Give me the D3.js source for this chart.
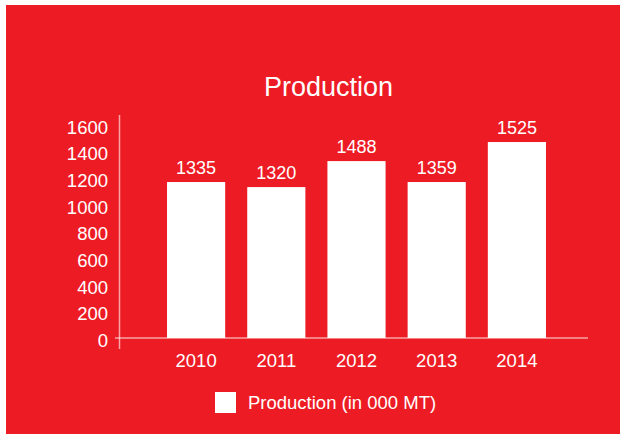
<!DOCTYPE html>
<html>
<head>
<meta charset="utf-8">
<script src="https://cdn.jsdelivr.net/npm/d3@7"></script>
<style>
  html, body { margin: 0; padding: 0; background: #fff; }
  svg { display: block; font-family: "Liberation Sans", Arial, Helvetica, sans-serif; }
</style>
</head>
<body>
<svg id="chart" width="620" height="434"></svg>
<script>
// Data
const categories = ["2010", "2011", "2012", "2013", "2014"];
const barValues = [1170, 1132, 1327, 1170, 1470];   // bar heights as drawn
const barLabels = ["1335", "1320", "1488", "1359", "1525"]; // printed labels
const yTicks = [0, 200, 400, 600, 800, 1000, 1200, 1400, 1600];
const title = "Production";
const legendLabel = "Production (in 000 MT)";

const svg = d3.select("#chart");
const red = "#ED1C24";
const axisColor = "rgba(255,255,255,0.6)";

svg.append("rect").attr("x", 6).attr("y", 5).attr("width", 614).attr("height", 429).attr("fill", red);

const x = d3.scaleBand().domain(categories).range([156, 557]).paddingInner(0.275).paddingOuter(0.1375);
const y = d3.scaleLinear().domain([0, 1600]).range([338, 124.7]);

// Title
svg.append("text").attr("x", 328.5).attr("y", 96).attr("text-anchor", "middle")
  .attr("fill", "#fff").style("font-size", "27px").text(title);

// Bars
svg.append("g").selectAll("rect").data(categories).join("rect")
  .attr("x", d => x(d)).attr("width", x.bandwidth())
  .attr("y", (d, i) => y(barValues[i])).attr("height", (d, i) => y(0) - y(barValues[i]))
  .attr("fill", "#fff");

// Bar labels
svg.append("g").selectAll("text").data(categories).join("text")
  .attr("x", d => x(d) + x.bandwidth() / 2)
  .attr("y", (d, i) => y(barValues[i]) - 8)
  .attr("text-anchor", "middle").attr("fill", "#fff").style("font-size", "18px")
  .text((d, i) => barLabels[i]);

// Y axis
const yAxis = d3.axisLeft(y).tickValues(yTicks).tickSize(0).tickPadding(11.5).tickFormat(d3.format("d"));
const gy = svg.append("g").attr("transform", "translate(119.5,0)").call(yAxis);
gy.select(".domain").remove();
gy.selectAll("text").attr("fill", "#fff").attr("dy", "0.45em").style("font-size", "18.5px");
svg.append("line").attr("x1", 119.5).attr("x2", 119.5).attr("y1", 115).attr("y2", 349)
  .attr("stroke", axisColor).attr("stroke-width", 1.5);

// X axis
const xAxis = d3.axisBottom(x).tickSize(0).tickPadding(16);
const gx = svg.append("g").attr("transform", "translate(0,338)").call(xAxis);
gx.select(".domain").remove();
gx.selectAll("text").attr("fill", "#fff").style("font-size", "18.5px");
svg.append("line").attr("x1", 115).attr("x2", 588).attr("y1", 338).attr("y2", 338)
  .attr("stroke", axisColor).attr("stroke-width", 1.5);

// Legend
svg.append("rect").attr("x", 215).attr("y", 392).attr("width", 21).attr("height", 21).attr("fill", "#fff");
svg.append("text").attr("x", 248).attr("y", 409).attr("fill", "#fff").style("font-size", "18.5px").text(legendLabel);
</script>
</body>
</html>
